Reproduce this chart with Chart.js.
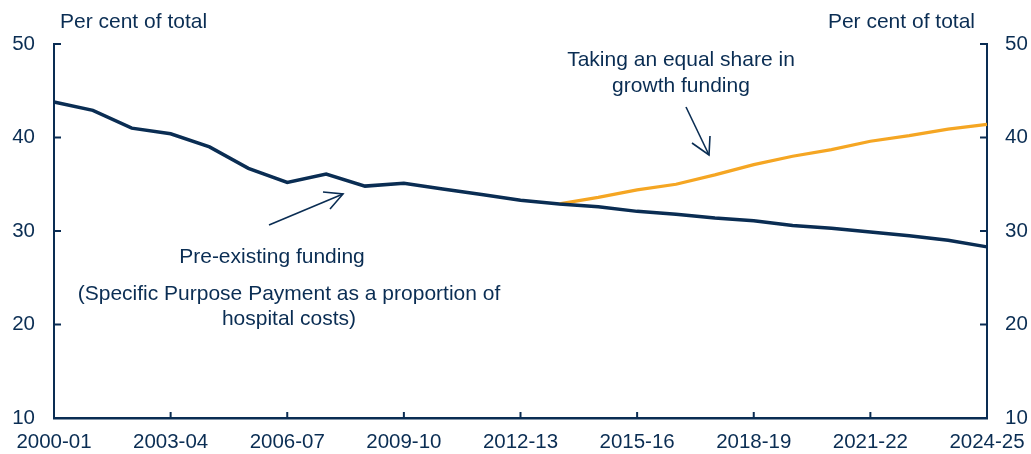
<!DOCTYPE html>
<html><head><meta charset="utf-8">
<script src="https://cdn.jsdelivr.net/npm/chart.js@4.4.1/dist/chart.umd.min.js"></script>
<style>html,body{margin:0;padding:0;background:#fff;}#wrap{width:1031px;height:454px;}</style>
</head><body><div id="wrap"><canvas id="c" width="1031" height="454"></canvas></div>
<script>
const categories = ["2000-01","2001-02","2002-03","2003-04","2004-05","2005-06","2006-07","2007-08","2008-09","2009-10","2010-11","2011-12","2012-13","2013-14","2014-15","2015-16","2016-17","2017-18","2018-19","2019-20","2020-21","2021-22","2022-23","2023-24","2024-25"];
const preExisting = [43.8,42.9,41.0,40.4,39.0,36.7,35.2,36.1,34.8,35.1,34.5,33.9,33.3,32.9,32.6,32.1,31.8,31.4,31.1,30.6,30.3,29.9,29.5,29.0,28.3];
const equalShare = [null,null,null,null,null,null,null,null,null,null,null,null,null,32.9,33.6,34.4,35.0,36.0,37.1,38.0,38.7,39.6,40.2,40.9,41.4];
const yTicks = [10,20,30,40,50];

const NAVY = '#0a2d53';
const ORANGE = '#f5a623';
const FONT = '"Liberation Sans", Arial, sans-serif';

const decor = {
  id: 'decor',
  afterDraw(chart) {
    const ctx = chart.ctx;
    const x = chart.scales.x, y = chart.scales.y, y2 = chart.scales.y2;
    ctx.save();
    ctx.strokeStyle = NAVY;
    ctx.lineWidth = 2;
    categories.forEach((c, i) => {
      if (i % 3 === 0 && i > 0 && i < categories.length - 1) {
        const px = x.getPixelForValue(i);
        ctx.beginPath(); ctx.moveTo(px, x.top); ctx.lineTo(px, x.top - 6); ctx.stroke();
      }
    });
    yTicks.forEach(v => {
      const py = y.getPixelForValue(v);
      ctx.beginPath(); ctx.moveTo(y.right, py); ctx.lineTo(y.right + 7, py); ctx.stroke();
      const py2 = y2.getPixelForValue(v);
      ctx.beginPath(); ctx.moveTo(y2.left, py2); ctx.lineTo(y2.left - 7, py2); ctx.stroke();
    });
    ctx.fillStyle = NAVY;
    ctx.font = '21px ' + FONT;
    ctx.textBaseline = 'middle';
    ctx.textAlign = 'left';
    ctx.fillText('Per cent of total', 60, 22);
    ctx.textAlign = 'right';
    ctx.fillText('Per cent of total', 975, 22);
    ctx.textAlign = 'center';
    ctx.fillText('Taking an equal share in', 681, 60);
    ctx.fillText('growth funding', 681, 86);
    ctx.fillText('Pre-existing funding', 272, 257);
    ctx.fillText('(Specific Purpose Payment as a proportion of', 289, 294);
    ctx.fillText('hospital costs)', 289, 319);
    ctx.lineWidth = 1.6;
    const arrow = (x1, y1, x2, y2, h1, h2) => {
      ctx.beginPath(); ctx.moveTo(x1, y1); ctx.lineTo(x2, y2); ctx.stroke();
      ctx.beginPath(); ctx.moveTo(h1[0], h1[1]); ctx.lineTo(x2, y2); ctx.lineTo(h2[0], h2[1]); ctx.stroke();
    };
    arrow(269, 225, 343, 194, [323, 192], [330, 209]);
    arrow(686, 107, 709, 155, [692, 143], [710, 136]);
    ctx.restore();
  }
};

new Chart(document.getElementById('c'), {
  type: 'line',
  data: {
    labels: categories,
    datasets: [
      { data: preExisting, borderColor: NAVY, borderWidth: 3.5, pointRadius: 0, tension: 0, yAxisID: 'y' },
      { data: equalShare, borderColor: ORANGE, borderWidth: 3.2, pointRadius: 0, tension: 0, yAxisID: 'y' }
    ]
  },
  options: {
    responsive: false,
    animation: false,
    events: [],
    layout: { padding: { top: 44, left: 0, right: 0, bottom: 0 } },
    plugins: { legend: { display: false }, tooltip: { enabled: false } },
    scales: {
      x: {
        type: 'category',
        offset: false,
        grid: { display: false, drawTicks: false },
        border: { display: true, color: NAVY, width: 2.5 },
        ticks: {
          autoSkip: false, maxRotation: 0, padding: 12,
          color: NAVY, font: { family: FONT, size: 20.5 },
          callback: (v, i) => (i % 3 === 0 ? categories[i] : '')
        },
        afterFit: s => { s.height = 36; s.paddingLeft = 0; s.paddingRight = 0; }
      },
      y: {
        position: 'left', min: 10, max: 50,
        grid: { display: false, drawTicks: false },
        border: { display: true, color: NAVY, width: 2 },
        ticks: { stepSize: 10, padding: 19, color: NAVY, font: { family: FONT, size: 20.5 } },
        afterFit: s => { s.width = 54; s.paddingTop = 0; s.paddingBottom = 0; }
      },
      y2: {
        position: 'right', min: 10, max: 50,
        grid: { display: false, drawTicks: false },
        border: { display: true, color: NAVY, width: 2 },
        ticks: { stepSize: 10, padding: 18, color: NAVY, font: { family: FONT, size: 20.5 } },
        afterFit: s => { s.width = 44; s.paddingTop = 0; s.paddingBottom = 0; }
      }
    }
  },
  plugins: [decor]
});
</script>
</body></html>
